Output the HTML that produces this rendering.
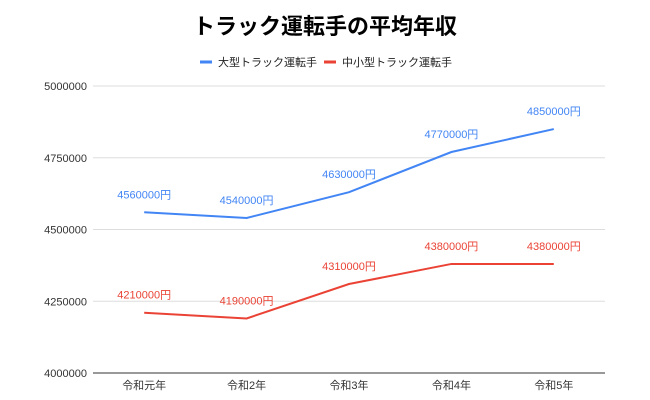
<!DOCTYPE html>
<html><head><meta charset="utf-8">
<style>
body{margin:0;background:#fff;}
svg{display:block;font-family:"Liberation Sans","Noto Sans CJK JP",sans-serif;}
</style></head>
<body>
<svg id="chart" width="650" height="400">
<text x="325" y="34" text-anchor="middle" font-size="22" font-weight="bold" fill="#000">トラック運転手の平均年収</text>
<g>
<line x1="200" y1="62" x2="212" y2="62" stroke="#4285f4" stroke-width="3"/>
<text x="218" y="66" font-size="11" fill="#222">大型トラック運転手</text>
<line x1="324" y1="62" x2="336" y2="62" stroke="#ea4335" stroke-width="3"/>
<text x="342" y="66" font-size="11" fill="#222">中小型トラック運転手</text>
</g>
<g id="grid"></g>
<g id="series"></g>
</svg>
<script>
const categories=["令和元年","令和2年","令和3年","令和4年","令和5年"];
const largeValues=[4560000,4540000,4630000,4770000,4850000];
const smallValues=[4210000,4190000,4310000,4380000,4380000];
const yTicks=[4000000,4250000,4500000,4750000,5000000];
const NS="http://www.w3.org/2000/svg";
const L=93,R=605,T=86,B=373,yMin=4000000,yMax=5000000;
function x(i){return L+(R-L)/categories.length*(i+0.5);}
function y(v){return B-(v-yMin)/(yMax-yMin)*(B-T);}
function mk(tag,a,p){const e=document.createElementNS(NS,tag);for(const k in a)e.setAttribute(k,a[k]);p.appendChild(e);return e;}
const grid=document.getElementById('grid'),ser=document.getElementById('series');
yTicks.forEach(t=>{
 const ln=mk('line',{x1:L,x2:R,y1:y(t),y2:y(t),stroke:t===yMin?'#333':'#ddd','stroke-width':1},grid);
 
 
 const tx=mk('text',{x:L-6,y:y(t)+4,'text-anchor':'end','font-size':11,fill:'#333'},grid);
 tx.textContent=t;
 
 
});
categories.forEach((c,i)=>{
 const tx=mk('text',{x:x(i),y:B+16,'text-anchor':'middle','font-size':11,fill:'#333'},grid);
 tx.textContent=c;
 
 
});
function series(vals,color,name){
 const pl=mk('polyline',{points:vals.map((v,i)=>x(i)+','+y(v)).join(' '),fill:'none',stroke:color,'stroke-width':2},ser);
 
 
 vals.forEach((v,i)=>{
  const tx=mk('text',{x:x(i),y:y(v)-14,'text-anchor':'middle','font-size':11,fill:color},ser);
  tx.textContent=v+'円';
  
  
 });
}
series(largeValues,'#4285f4','large-truck');
series(smallValues,'#ea4335','small-truck');
</script>
</body></html>
